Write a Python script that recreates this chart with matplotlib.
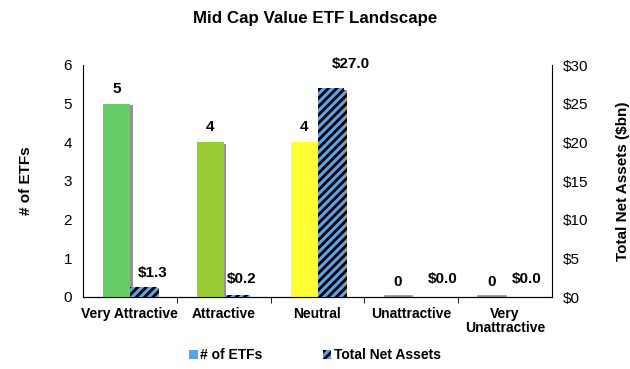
import numpy as np
import matplotlib
matplotlib.use('Agg')
import matplotlib.pyplot as plt
import matplotlib.patheffects as pe
from matplotlib.patches import Patch

plt.rcParams['font.family'] = ['Liberation Sans', 'DejaVu Sans']
plt.rcParams['hatch.linewidth'] = 2.0

# data
categories = ['Very Attractive', 'Attractive', 'Neutral', 'Unattractive', 'Very\nUnattractive']
num_etfs = [5, 4, 4, 0, 0]
net_assets = [1.3, 0.2, 27.0, 0.0, 0.0]
bar_colors = ['#66CC66', '#99CC33', '#FFFF33', '#66CC66', '#66CC66']
# label nudges (pixels) for the asset labels, as placed in the original
asset_label_dx = [9, 5, 20, 18, 8]
asset_label_dy = [14, 16, 24, 18, 18]

fig = plt.figure(figsize=(6.3, 3.69), dpi=100)
ax = fig.add_axes([83/630, 1 - 297/369, (552-83)/630, (297-65)/369])
ax2 = ax.twinx()

x = np.arange(len(categories))
w = 0.285
shadow = [pe.SimplePatchShadow(offset=(2, -1), shadow_rgbFace='#888888', alpha=0.9), pe.Normal()]

bars1 = ax.bar(x - w/2, num_etfs, w, color=bar_colors, zorder=3, path_effects=shadow)
bars2 = ax2.bar(x + w/2, net_assets, w, color='#5BA3E8', edgecolor='black', linewidth=0,
                hatch='////', zorder=3, path_effects=shadow)

# small grey line where a bar is zero
for xi, v in zip(x, num_etfs):
    if v == 0:
        ax.plot([xi - w, xi], [0.02, 0.02], color='#999999', lw=2, zorder=2, clip_on=False)

# labels
for xi, v in zip(x, num_etfs):
    ax.annotate(f'{v}', (xi - w/2, v), xytext=(0, 15), textcoords='offset pixels',
                ha='center', va='center', fontsize=11, fontweight='bold')
for xi, v, dx, dy in zip(x, net_assets, asset_label_dx, asset_label_dy):
    ax2.annotate(f'${v:.1f}', (xi + w/2, v), xytext=(dx, dy), textcoords='offset pixels',
                 ha='center', va='center', fontsize=11, fontweight='bold')

ax.set_xlim(-0.5, len(categories) - 0.5)
ax.set_ylim(0, 6)
ax2.set_ylim(0, 30)
ax.set_yticks(range(0, 7))
ax2.set_yticks(range(0, 31, 5))
ax2.set_yticklabels([f'${t}' for t in range(0, 31, 5)])
ax.tick_params(axis='y', length=0, labelsize=11, pad=8)
ax2.tick_params(axis='y', length=0, labelsize=11, pad=8)

ax.set_xticks(x)
ax.set_xticklabels(categories, fontsize=10, fontweight='bold', linespacing=1.0)
ax.tick_params(axis='x', length=0, pad=7)
ax.set_xticks(np.arange(0.5, len(categories) - 1, 1), minor=True)
ax.tick_params(axis='x', which='minor', length=4, direction='out')

for a in (ax, ax2):
    a.spines['top'].set_visible(False)
ax.spines['right'].set_visible(False)
ax2.spines['left'].set_visible(False)

ax.set_ylabel('# of ETFs', fontsize=11, fontweight='bold', labelpad=22)
ax2.set_ylabel('Total Net Assets ($bn)', fontsize=11, fontweight='bold', labelpad=20)

fig.suptitle('Mid Cap Value ETF Landscape', fontsize=12.2, fontweight='bold', y=0.97)

handles = [Patch(facecolor='#5BA3E8', edgecolor='none'),
           Patch(facecolor='#5BA3E8', edgecolor='black', linewidth=0, hatch='////')]
fig.legend(handles, ['# of ETFs', 'Total Net Assets'], loc='lower center',
           bbox_to_anchor=(0.5, -0.015), ncol=2, frameon=False, handlelength=0.6,
           handleheight=0.6, handletextpad=0.2, columnspacing=4.3,
           prop={'weight': 'bold', 'size': 10})

plt.savefig('out.png', dpi=100)
